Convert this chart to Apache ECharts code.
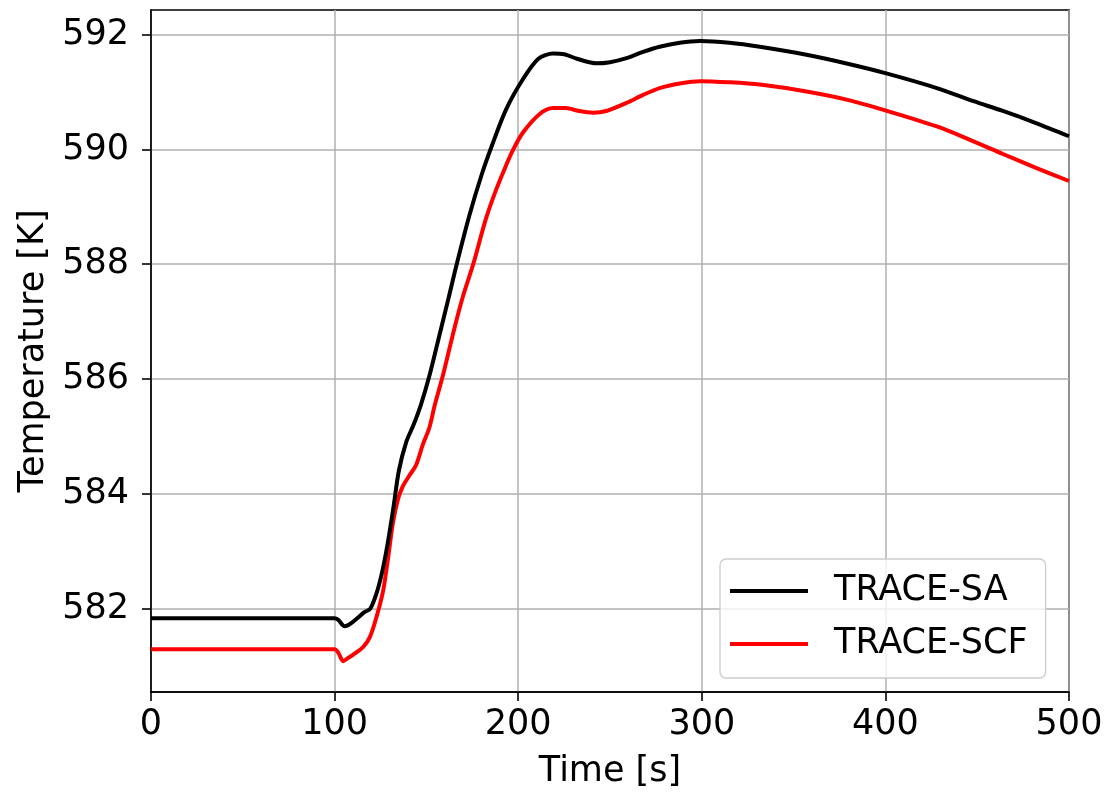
<!DOCTYPE html>
<html>
<head>
<meta charset="utf-8">
<script src="https://cdn.jsdelivr.net/npm/echarts@6/dist/echarts.min.js"></script>
<style>
  html, body { margin: 0; padding: 0; background: #ffffff; }
  #chart { width: 1107px; height: 794px; }
</style>
</head>
<body>
<div id="chart"></div>
<script>
// Time axis ticks [s] and temperature ticks [K]
const xTicks = [0, 100, 200, 300, 400, 500];
const yTicks = [582, 584, 586, 588, 590, 592];

// TRACE-SA: time [s] and temperature [K]
const timeSA = [0, 50, 100, 102, 105.5, 108, 112, 116, 119.5, 123, 126, 129, 132, 135, 139, 143, 147,
  151.6, 157, 162, 166.5, 173.4, 180, 185.5, 193.3, 202.3, 211, 219, 225, 232, 242.7, 250, 259,
  268, 277, 288, 299, 315, 331.6, 357, 380, 400, 428, 448, 464, 482, 500];
const tempSA = [581.83, 581.83, 581.83, 581.80, 581.69, 581.72, 581.82, 581.93, 582.00, 582.28,
  582.65, 583.15, 583.75, 584.40, 584.90, 585.20, 585.55, 586.05, 586.75, 587.40, 588.00, 588.85,
  589.55, 590.05, 590.69, 591.21, 591.58, 591.67, 591.66, 591.58, 591.50, 591.52, 591.59, 591.70,
  591.79, 591.86, 591.89, 591.86, 591.79, 591.65, 591.49, 591.33, 591.07, 590.84, 590.67, 590.46,
  590.23];

// TRACE-SCF: time [s] and temperature [K]
const timeSCF = [0, 50, 100, 102, 104.7, 107, 110, 115.6, 119.2, 122.9, 126.5, 129, 131.8, 134.5,
  137, 141, 144.4, 148, 151.6, 154.6, 158.9, 165, 170, 175.5, 182.4, 188, 193.5, 197, 202.5, 211.4,
  219, 226, 233, 240.8, 248, 259, 268, 277, 288, 299, 315, 331.6, 357, 380, 400, 428, 448, 464,
  482, 500];
const tempSCF = [581.29, 581.29, 581.29, 581.23, 581.08, 581.13, 581.19, 581.33, 581.50, 581.86,
  582.32, 582.85, 583.50, 583.90, 584.12, 584.33, 584.50, 584.85, 585.15, 585.55, 586.05, 586.85,
  587.45, 588.00, 588.79, 589.30, 589.73, 589.98, 590.29, 590.61, 590.72, 590.72, 590.67, 590.64,
  590.67, 590.81, 590.95, 591.07, 591.15, 591.19, 591.17, 591.13, 591.01, 590.86, 590.68, 590.40,
  590.14, 589.92, 589.68, 589.45];

const FONT = 'DejaVu Sans';
const pairs = (xs, ys) => xs.map((x, i) => [x, ys[i]]);

const chart = echarts.init(document.getElementById('chart'), null, { renderer: 'canvas' });

chart.setOption({
  animation: false,
  backgroundColor: '#ffffff',
  grid: {
    left: 151, right: 38, top: 10, bottom: 98,
    show: true, borderColor: '#000000', borderWidth: 1.6, backgroundColor: 'transparent'
  },
  legend: {
    orient: 'vertical',
    left: 720, top: 559,
    padding: [14, 18, 16, 10],
    itemGap: 17,
    icon: 'rect',
    itemWidth: 78, itemHeight: 4,
    backgroundColor: 'rgba(255,255,255,0.8)',
    borderColor: '#cccccc', borderWidth: 1.3, borderRadius: 6,
    textStyle: { fontFamily: FONT, fontSize: 35, color: '#000000', lineHeight: 36, padding: [0, 0, 0, 21] },
    data: ['TRACE-SA', 'TRACE-SCF']
  },
  xAxis: {
    type: 'value',
    min: 0, max: 500, interval: 100,
    name: 'Time [s]', nameLocation: 'middle', nameGap: 62,
    nameTextStyle: { fontFamily: FONT, fontSize: 35, color: '#000000' },
    axisLine: { show: true, onZero: false, lineStyle: { color: '#000000', width: 1.6 } },
    axisTick: { show: true, inside: false, length: 9, lineStyle: { color: '#000000', width: 1.6 } },
    axisLabel: {
      margin: 15, fontFamily: FONT, fontSize: 35, color: '#000000',
      customValues: xTicks
    },
    splitLine: { show: true, lineStyle: { color: '#b0b0b0', width: 1.5 } }
  },
  yAxis: {
    type: 'value',
    min: 580.544, max: 592.43,
    name: 'Temperature [K]', nameLocation: 'middle', nameGap: 100,
    nameTextStyle: { fontFamily: FONT, fontSize: 35, color: '#000000' },
    axisLine: { show: true, onZero: false, lineStyle: { color: '#000000', width: 1.6 } },
    axisTick: { show: true, inside: false, length: 9, customValues: yTicks,
      lineStyle: { color: '#000000', width: 1.6 } },
    axisLabel: {
      margin: 22, fontFamily: FONT, fontSize: 35, color: '#000000',
      customValues: yTicks
    },
    splitLine: { show: true, lineStyle: { color: '#b0b0b0', width: 1.5 } }
  },
  series: [
    {
      name: 'TRACE-SA', type: 'line', data: pairs(timeSA, tempSA),
      symbol: 'none', smooth: 0.3, color: '#000000',
      lineStyle: { color: '#000000', width: 4 }, z: 3
    },
    {
      name: 'TRACE-SCF', type: 'line', data: pairs(timeSCF, tempSCF),
      symbol: 'none', smooth: 0.3, color: '#ff0000',
      lineStyle: { color: '#ff0000', width: 4 }, z: 2
    }
  ]
});
</script>
</body>
</html>
